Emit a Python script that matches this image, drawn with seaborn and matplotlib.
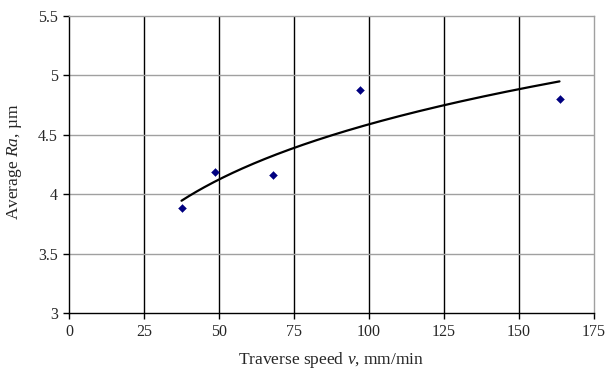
import numpy as np
import pandas as pd
import matplotlib
matplotlib.use("Agg")
import matplotlib.pyplot as plt
import seaborn as sns

speed = [37.5, 48.8, 68.0, 97.0, 163.5]
ra = [3.88, 4.19, 4.16, 4.88, 4.80]
xticks = [0, 25, 50, 75, 100, 125, 150, 175]
yticks = [3, 3.5, 4, 4.5, 5, 5.5]

sns.set_style("white")
plt.rcParams['font.family'] = ['Liberation Serif', 'DejaVu Serif']
plt.rcParams['mathtext.fontset'] = 'custom'
plt.rcParams['mathtext.it'] = 'Liberation Serif:italic'
plt.rcParams['mathtext.rm'] = 'Liberation Serif'

fig = plt.figure(figsize=(6.05, 3.7), dpi=100)
ax = fig.add_axes([69/605, 1 - 313/370, (594-69)/605, (313-16)/370])

df = pd.DataFrame({"speed": speed, "ra": ra})
# power trendline fitted from the data
b, ln_a = np.polyfit(np.log(df.speed), np.log(df.ra), 1)
xs = np.linspace(min(speed), max(speed), 200)
fit = pd.DataFrame({"speed": xs, "ra": np.exp(ln_a) * xs ** b})

sns.lineplot(data=fit, x="speed", y="ra", ax=ax, color="black", lw=1.6, zorder=3)
sns.scatterplot(data=df, x="speed", y="ra", ax=ax, marker="D", s=16,
                color="#000080", edgecolor="#000080", zorder=4)

ax.set_xlim(0, 175)
ax.set_ylim(3, 5.5)
ax.set_xticks(xticks)
ax.set_yticks(yticks)
ax.set_xticklabels([str(t) for t in xticks])
ax.set_yticklabels([f"{t:g}" for t in yticks])

for t in xticks[1:-1]:
    ax.axvline(t, color="black", lw=1.0, zorder=1)
for t in yticks[1:-1]:
    ax.axhline(t, color="#a0a0a0", lw=1.0, zorder=1)

for s in ["left", "bottom"]:
    ax.spines[s].set_color("black")
    ax.spines[s].set_linewidth(1.0)
for s in ["top", "right"]:
    ax.spines[s].set_color("#a0a0a0")
    ax.spines[s].set_linewidth(1.0)

ax.tick_params(axis="both", direction="out", length=4, width=1, color="black",
               labelsize=11.5, bottom=True, left=True)
ax.tick_params(axis="x", pad=4)
ax.tick_params(axis="y", pad=4)

ax.set_xlabel(r"Traverse speed $v$, mm/min", fontsize=12.5)
ax.xaxis.label.set_va("center")
ax.xaxis.set_label_coords(0.5, (313 - 360) / 297)
ax.set_ylabel(r"Average $Ra$, µm", fontsize=12.5)
ax.yaxis.label.set_va("center")
ax.yaxis.set_label_coords((15 - 69) / 525, (313 - 162) / 297)

fig.savefig("out.png", dpi=100, facecolor="white")
